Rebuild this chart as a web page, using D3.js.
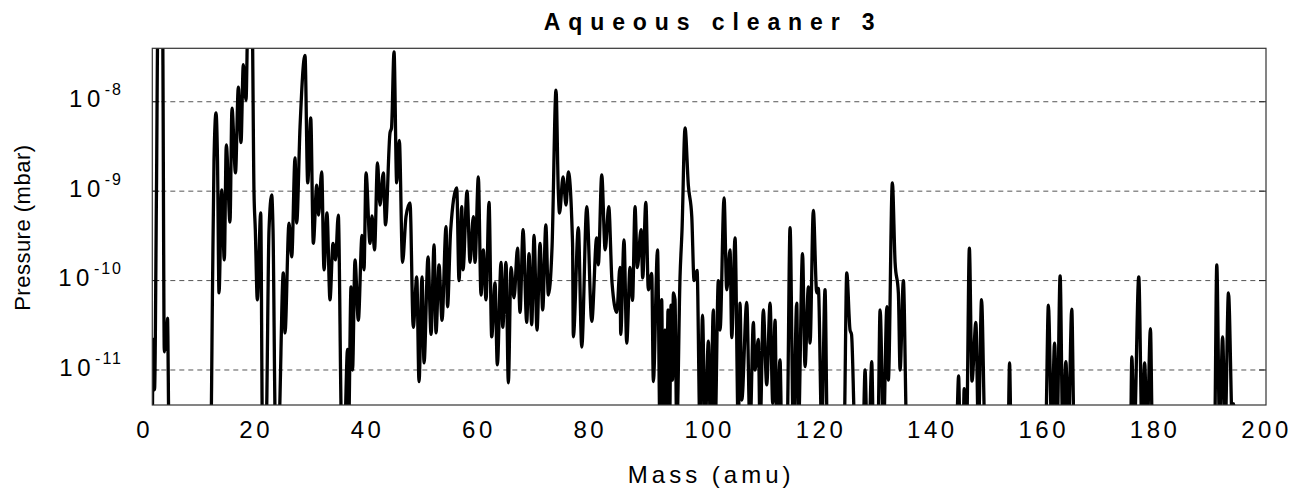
<!DOCTYPE html>
<html><head><meta charset="utf-8">
<script src="https://cdn.jsdelivr.net/npm/d3@7"></script>
<style>body{margin:0;background:#fff}svg{display:block}</style>
</head><body>
<svg id="c" width="1300" height="494"></svg>
<script>
const title = "Aqueous cleaner 3";
const xTitle = "Mass (amu)";
const yTitle = "Pressure (mbar)";
const xTicks = [0,20,40,60,80,100,120,140,160,180,200];
const yTicks = [1e-8,1e-9,1e-10,1e-11];
const yTickExp = ["-8","-9","-10","-11"];

const mass = [
0.00,0.18,0.40,0.75,1.02,1.83,2.16,2.37,2.55,2.73,3.00,10.51,
10.81,11.08,11.44,11.71,11.98,12.46,12.93,13.29,13.95,14.31,14.94,15.45,15.93,16.34,16.83,17.19,17.91,18.26,18.50,18.86,19.47,19.79,20.42,20.96,21.44,21.68,22.13,22.67,23.53,23.83,24.55,25.04,25.63,25.93,26.53,27.42,27.91,28.45,28.92,29.53,29.85,30.42,30.84,31.37,31.91,32.45,32.90,33.40,34.02,34.52,35.06,35.24,35.69,35.96,36.40,37.00,37.66,38.02,38.38,39.10,39.46,39.91,40.44,40.89,41.49,41.88,42.69,42.96,43.41,43.89,44.36,44.94,45.56,46.28,46.87,47.49,47.90,48.44,48.80,49.52,50.06,50.60,50.95,51.49,52.03,52.75,53.02,53.56,54.67,55.08,55.57,55.80,56.52,57.06,57.65,57.96,58.55,59.03,59.45,59.93,60.47,60.95,61.55,61.96,62.63,62.93,63.52,63.94,64.42,64.96,65.59,66.04,66.58,67.24,67.65,68.14,68.55,69.09,69.63,70.11,70.67,71.12,71.79,72.50,72.91,73.13,73.76,74.30,74.71,75.47,75.61,76.51,77.12,78.02,78.92,79.80,80.10,80.71,81.33,81.97,82.56,83.41,83.99,84.12,84.71,85.20,85.79,86.24,86.69,87.10,87.77,88.07,88.63,89.08,89.69,89.98,90.73,91.18,91.48,91.71,92.07,92.34,92.62,92.89,93.16,93.43,93.57,93.87,94.18,94.77,95.13,95.67,96.26,96.88,97.29,97.83,98.36,98.81,99.26,99.86,100.25,100.75,101.06,101.65,101.96,102.68,103.16,103.75,104.06,104.65,105.24,105.55,105.86,106.75,107.34,107.94,108.24,108.84,109.14,109.73,110.34,110.94,111.42,111.84,112.14,112.73,113.04,113.99,114.53,115.12,115.73,116.02,116.77,117.22,117.82,118.12,118.71,119.32,119.61,120.22,120.81,121.23,124.23,124.71,125.30,125.57,126.20,127.64,128.00,128.36,128.72,129.20,129.50,130.30,130.70,131.31,131.92,132.18,132.90,133.39,133.98,134.29,134.88,135.49,144.40,144.80,145.06,145.60,145.80,146.05,146.23,146.73,147.20,147.90,148.35,148.92,149.55,153.68,153.95,154.22,160.42,160.92,161.53,162.03,162.48,163.03,163.50,164.06,164.51,165.12,165.54,175.68,175.90,176.34,177.15,177.73,178.20,178.65,179.25,179.60,190.77,191.16,191.67,192.21,192.66,193.26,194.00,194.20,194.38,200.00
];
const pressure = [
2e-12,2.2e-11,6e-12,1e-9,1e-7,1e-7,1.6e-11,2.8e-11,1.7e-11,3.8e-11,2e-12,2e-12,
7.9e-11,2.2e-9,7.5e-9,2.2e-9,7.3e-11,1.03e-9,1.7e-10,3.3e-9,4.5e-10,8.5e-9,1.6e-9,1.46e-8,3.5e-9,2.6e-8,1.04e-8,1e-7,1e-7,1.0e-9,3.7e-10,6.1e-11,5.7e-10,2e-12,2e-12,3.7e-10,9.1e-10,3.7e-10,2e-12,2e-12,1.22e-10,2.6e-11,4.4e-10,1.84e-10,2.35e-9,4.4e-10,5.2e-9,3.3e-8,1.24e-9,6.6e-9,2.6e-10,1.17e-9,5.4e-10,1.64e-9,1.32e-10,5.7e-10,6.1e-11,2.6e-10,1.7e-10,5.4e-10,2e-12,2e-12,1.7e-11,2e-12,8.5e-11,1.0e-11,1.7e-10,3.6e-11,3.2e-10,1.32e-10,1.6e-9,2.6e-10,5.3e-10,2.2e-10,2.07e-9,7.0e-10,1.6e-9,4.2e-10,4.5e-9,5.1e-9,3.6e-8,1.24e-9,3.7e-9,1.6e-10,5.2e-10,7.4e-10,3.0e-11,1.1e-10,7.4e-12,1.1e-10,1.2e-11,1.84e-10,2.5e-11,2.5e-10,2.6e-11,1.5e-10,3.6e-11,4.0e-10,5.1e-11,3.5e-10,1.09e-9,1.0e-10,6.7e-10,1.32e-10,1.0e-9,1.6e-10,5.2e-10,1.6e-10,1.44e-9,6.9e-11,2.2e-10,6.1e-11,7.5e-10,2.35e-11,9.4e-11,1.14e-11,1.6e-10,3.0e-11,1.6e-10,7.2e-12,1.4e-10,6.4e-11,2.3e-10,4.4e-11,3.7e-10,3.4e-11,2.0e-10,3.2e-11,3.2e-10,2.8e-11,2.6e-10,4.7e-11,4.2e-10,6.9e-11,2.4e-10,1.35e-8,1.0e-9,5.7e-10,1.44e-9,7.0e-10,1.64e-9,2.6e-10,2.35e-11,3.9e-10,1.8e-11,6.7e-10,3.5e-11,3.0e-10,1.5e-10,1.52e-9,2.2e-10,6.7e-10,9.4e-11,4.4e-11,1.4e-10,2.5e-11,2.85e-10,2.0e-11,1.4e-10,6e-11,6.7e-10,1.4e-10,3.7e-10,1.07e-10,7.5e-10,7.9e-11,1.2e-10,7.4e-12,2.2e-10,2e-12,6.1e-11,2e-12,2.8e-11,2e-12,4.7e-11,2e-12,5.3e-11,7.7e-12,7.3e-11,6.1e-11,2e-12,1.1e-10,3.7e-10,5.1e-9,1.17e-9,5.2e-10,1.0e-10,1.3e-10,2e-12,4.1e-11,2e-12,2.1e-11,2e-12,4.7e-11,2e-12,1.0e-10,2.8e-11,8.4e-10,7.9e-11,2.2e-10,2.3e-11,3.0e-10,2e-12,5.6e-11,4.6e-12,5.7e-11,2e-12,3.4e-11,1.0e-11,2.2e-11,2e-12,4.7e-11,6.8e-12,5.6e-11,4.2e-12,3.6e-11,2e-12,1.3e-11,2e-12,2e-12,3.9e-10,2e-12,5.6e-11,2e-12,2.0e-10,1.09e-11,8.5e-11,2.0e-11,6.1e-10,7.3e-11,8.2e-11,2e-12,7.9e-11,2e-12,2e-12,1.22e-10,2.8e-11,2.5e-11,2e-12,2e-12,1.0e-11,2e-12,2e-12,1.24e-11,2e-12,2e-12,4.7e-11,2e-12,5.1e-11,7.7e-12,1.24e-9,1.6e-10,7.3e-11,1.0e-11,1.0e-10,2e-12,2e-12,8.6e-12,2e-12,2e-12,6.2e-12,2e-12,2e-12,2.3e-10,7.5e-12,3.4e-11,2e-12,6.1e-11,2e-12,2e-12,1.2e-11,2e-12,2e-12,5.3e-11,2e-12,2.0e-11,2e-12,1.13e-10,2e-12,1.24e-11,2e-12,4.8e-11,2e-12,2e-12,1.4e-11,2e-12,1.1e-10,2e-12,1.2e-11,2e-12,2.9e-11,2e-12,2e-12,1.5e-10,2e-12,2.35e-11,2e-12,7.3e-11,2e-12,4.2e-12,2e-12,2e-12
];

const svg = d3.select("#c");
const L = 152.3, R = 1266, T = 48.3, B = 405;
const x = d3.scaleLinear().domain([0, 200]).range([L, R]);
const y = d3.scaleLog().domain([4.06e-12, 3.96e-8]).range([B, T]);
const FONT = "'Liberation Sans', Arial, sans-serif";

svg.append("defs").append("clipPath").attr("id", "clip")
  .append("rect").attr("x", L).attr("y", T).attr("width", R - L).attr("height", B - T);

// gridlines and ticks
const grid = svg.append("g");
yTicks.forEach(v => {
  grid.append("line").attr("x1", L).attr("x2", R).attr("y1", y(v)).attr("y2", y(v))
    .attr("stroke", "#555").attr("stroke-width", 1).attr("stroke-dasharray", "5,4");
  grid.append("line").attr("x1", L).attr("x2", L + 7).attr("y1", y(v)).attr("y2", y(v))
    .attr("stroke", "#222").attr("stroke-width", 1);
  grid.append("line").attr("x1", R - 7).attr("x2", R).attr("y1", y(v)).attr("y2", y(v))
    .attr("stroke", "#222").attr("stroke-width", 1);
});

// data line
const data = mass.map((m, i) => [m, pressure[i]]);
svg.append("path").datum(data)
  .attr("clip-path", "url(#clip)")
  .attr("fill", "none").attr("stroke", "#000").attr("stroke-width", 3.3)
  .attr("stroke-linejoin", "round")
  .attr("d", d3.line().curve(d3.curveMonotoneX).x(d => x(d[0])).y(d => y(d[1])));

// frame
svg.append("rect").attr("x", L).attr("y", T).attr("width", R - L).attr("height", B - T)
  .attr("fill", "none").attr("stroke", "#333").attr("stroke-width", 1.2);

// x tick labels
svg.append("g").selectAll("text").data(xTicks).join("text")
  .attr("x", d => x(d) + (String(d).length < 3 ? -7.5 : 0.5)).attr("y", 438)
  .attr("text-anchor", "middle").attr("font-family", FONT).attr("font-size", 24)
  .attr("letter-spacing", 3.5).attr("fill", "#000").text(d => d);

// y tick labels
yTicks.forEach((v, i) => {
  const t = svg.append("text").attr("x", 123).attr("y", y(v) + 5.6)
    .attr("text-anchor", "end").attr("font-family", FONT).attr("fill", "#000");
  t.append("tspan").attr("font-size", 24).attr("letter-spacing", 4.5).text("10");
  t.append("tspan").attr("font-size", 16).attr("dy", -12).attr("letter-spacing", 2).text(yTickExp[i]);
});

// titles
svg.append("text").attr("x", (L + R) / 2 + 4).attr("y", 30)
  .attr("text-anchor", "middle").attr("font-family", FONT).attr("font-size", 23)
  .attr("font-weight", "bold").attr("letter-spacing", 7.9).text(title);
svg.append("text").attr("x", (L + R) / 2 + 2).attr("y", 483)
  .attr("text-anchor", "middle").attr("font-family", FONT).attr("font-size", 24)
  .attr("letter-spacing", 4).text(xTitle);
svg.append("text").attr("transform", `translate(30,${(T + B) / 2 + 1}) rotate(-90)`)
  .attr("text-anchor", "middle").attr("font-family", FONT).attr("font-size", 22)
  .attr("letter-spacing", 0.5).text(yTitle);
</script>
</body></html>
